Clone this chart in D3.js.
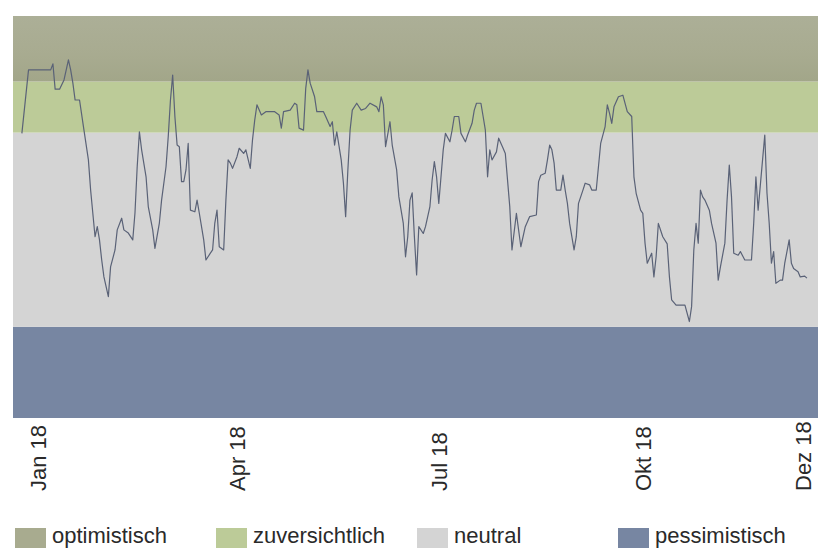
<!DOCTYPE html>
<html>
<head>
<meta charset="utf-8">
<script src="https://cdn.jsdelivr.net/npm/d3@7"></script>
<style>
  body { margin: 0; background: #ffffff; }
  svg { display: block; font-family: "Liberation Sans", Arial, sans-serif; }
</style>
</head>
<body>
<svg id="chart"></svg>
<script>
// Stimmungsindex 2018: Tage seit dem 1. Januar 2018 und Indexwert (0-100)
var dayOffsets = [
    -7, -4, 6, 7, 8, 10, 12, 14, 15, 16, 17, 19, 21, 23, 24, 26, 27, 28, 29, 30,
    32, 33, 35, 36, 38, 39, 41, 43, 44, 45, 46, 47, 49, 50, 52, 53, 55, 56, 58, 59,
    60, 61, 62, 63, 64, 65, 66, 67, 68, 69, 71, 72, 73, 75, 76, 78, 79, 80, 81, 82,
    84, 85, 86, 87, 88, 90, 91, 93, 94, 96, 97, 98, 99, 101, 103, 107, 109, 110, 111, 114,
    116, 117, 118, 120, 121, 122, 123, 125, 126, 129, 130, 132, 133, 134, 135, 137, 138, 139, 140, 141,
    142, 144, 146, 148, 150, 153, 154, 155, 156, 157, 159, 160, 162, 163, 165, 166, 167, 168, 169, 170,
    171, 172, 174, 175, 177, 178, 179, 180, 181, 182, 183, 184, 186, 187, 188, 190, 191, 193, 194, 196,
    197, 198, 200, 201, 202, 203, 204, 205, 207, 208, 210, 211, 213, 214, 216, 218, 220, 222, 225, 226,
    227, 229, 230, 231, 232, 233, 234, 236, 237, 238, 239, 240, 242, 243, 244, 246, 247, 249, 250, 252,
    253, 254, 256, 257, 258, 259, 260, 262, 264, 266, 268, 269, 270, 272, 273, 274, 275, 277, 278, 279,
    280, 282, 284, 285, 286, 288, 292, 294, 295, 296, 297, 298, 299, 300, 301, 303, 304, 306, 307, 308,
    310, 311, 312, 313, 314, 316, 317, 319, 322, 323, 324, 325, 327, 328, 329, 330, 331, 332, 333, 335,
    336, 337, 339, 340, 341, 343, 344, 346, 347
];
var sentiment = [
    70.8, 86.6, 86.6, 88.1, 81.8, 81.8, 84.1, 89.1, 86.6, 83.3, 79.1, 79.1, 71.6, 64.2, 56.7, 45.1, 47.6, 44.3, 39.3, 35.1,
    30.2, 37.6, 41.8, 46.8, 49.7, 46.8, 46.0, 44.3, 51.0, 62.5, 71.2, 66.7, 60.0, 52.6, 46.8, 42.2, 48.5, 54.2, 62.5, 70.0,
    79.1, 85.3, 75.0, 67.9, 67.5, 58.8, 58.8, 61.7, 68.3, 51.7, 51.3, 54.2, 51.0, 44.3, 39.3, 41.0, 41.8, 48.5, 51.7, 42.6,
    41.8, 54.2, 64.2, 63.4, 62.1, 65.0, 67.1, 65.8, 66.7, 62.1, 69.2, 74.1, 77.9, 75.4, 76.2, 76.2, 75.4, 72.1, 76.2, 76.6,
    78.3, 77.9, 72.1, 71.6, 82.0, 86.6, 83.3, 79.9, 76.2, 76.2, 75.0, 72.5, 73.7, 67.9, 71.2, 64.2, 58.4, 50.1, 61.7, 71.6,
    76.6, 78.3, 76.6, 77.0, 78.3, 77.4, 76.2, 79.9, 77.9, 67.5, 73.7, 67.9, 61.7, 55.0, 48.4, 40.1, 45.1, 54.2, 56.0, 45.1,
    35.6, 47.6, 45.9, 47.6, 52.6, 59.2, 63.8, 60.0, 53.4, 60.0, 66.7, 70.8, 68.7, 71.6, 75.0, 75.0, 70.8, 68.7, 70.4, 73.3,
    76.6, 78.3, 78.3, 75.0, 71.6, 60.0, 66.7, 64.2, 66.2, 69.6, 67.1, 65.8, 52.6, 41.8, 50.9, 42.6, 47.6, 50.1, 50.5, 58.8,
    60.4, 60.9, 64.2, 67.9, 66.7, 63.4, 56.7, 56.7, 60.4, 56.7, 53.4, 48.4, 41.8, 45.1, 53.4, 56.7, 58.4, 58.0, 56.7, 56.7,
    62.5, 68.3, 72.5, 77.9, 75.8, 73.3, 77.4, 79.9, 80.3, 76.2, 75.0, 60.0, 55.9, 51.7, 50.9, 43.5, 38.5, 41.0, 35.1, 40.1,
    48.4, 45.1, 43.3, 35.1, 29.4, 28.1, 28.1, 24.0, 27.7, 41.8, 48.4, 43.5, 56.7, 55.0, 54.2, 51.7, 48.4, 43.5, 34.3, 37.6,
    43.5, 54.2, 62.9, 55.0, 41.0, 40.5, 41.4, 39.3, 39.3, 48.4, 60.0, 51.7, 64.2, 70.4, 55.9, 48.4, 38.5, 41.4, 33.5, 34.3,
    34.3, 38.5, 44.3, 38.5, 37.2, 36.4, 35.1, 35.3, 34.8
];

// Stimmungszonen von unten nach oben mit ihren Grenzen auf der Indexskala
var zoneNames = ['pessimistisch', 'neutral', 'zuversichtlich', 'optimistisch'];
var zoneBreaks = [0, 22.7, 71, 83.7, 100];

// Achsenbeschriftung
var tickDates = ['2018-01-01', '2018-04-01', '2018-07-01', '2018-10-01', '2018-12-12'];
var tickLabels = ['Jan 18', 'Apr 18', 'Jul 18', 'Okt 18', 'Dez 18'];

// Legende in der Reihenfolge der Grafik
var legendOrder = ['optimistisch', 'zuversichtlich', 'neutral', 'pessimistisch'];

var svgWidth = 818, svgHeight = 548;
var plot = { left: 13, right: 818, top: 16, bottom: 418 };

var svg = d3.select('#chart')
    .attr('width', svgWidth)
    .attr('height', svgHeight);

var parseDate = d3.timeParse('%Y-%m-%d');
var startDate = new Date(2018, 0, 1);

var data = dayOffsets.map(function(d, i) {
    return { date: d3.timeDay.offset(startDate, d), value: sentiment[i] };
});

var x = d3.scaleTime()
    .domain([new Date(2017, 11, 21), new Date(2018, 11, 19)])
    .range([plot.left, plot.right]);

var y = d3.scaleLinear()
    .domain([0, 100])
    .range([plot.bottom, plot.top]);

var zoneColor = d3.scaleOrdinal()
    .domain(zoneNames)
    .range(['#7786a2', '#d4d4d4', '#bccb98', 'url(#optGrad)']);

var legendColor = d3.scaleOrdinal()
    .domain(zoneNames)
    .range(['#7786a2', '#d4d4d4', '#bccb98', '#a8ab8f']);

// leichter Verlauf im obersten Band
var grad = svg.append('defs').append('linearGradient')
    .attr('id', 'optGrad')
    .attr('x1', 0).attr('y1', 0).attr('x2', 0).attr('y2', 1);
grad.append('stop').attr('offset', '0%').attr('stop-color', '#acaf97');
grad.append('stop').attr('offset', '60%').attr('stop-color', '#a8ab90');
grad.append('stop').attr('offset', '100%').attr('stop-color', '#a2a689');

// Hintergrundbänder
svg.append('g').selectAll('rect')
    .data(zoneNames)
    .enter().append('rect')
    .attr('x', plot.left)
    .attr('width', plot.right - plot.left)
    .attr('y', function(d, i) { return y(zoneBreaks[i + 1]); })
    .attr('height', function(d, i) { return y(zoneBreaks[i]) - y(zoneBreaks[i + 1]); })
    .attr('fill', function(d) { return zoneColor(d); });

// Indexlinie
var line = d3.line()
    .x(function(d) { return x(d.date); })
    .y(function(d) { return y(d.value); });

svg.append('path')
    .datum(data)
    .attr('fill', 'none')
    .attr('stroke', '#5a6277')
    .attr('stroke-width', 1.2)
    .attr('stroke-linejoin', 'round')
    .attr('d', line);

// x-Achse: senkrechte Beschriftung
var xAxis = d3.axisBottom(x)
    .tickValues(tickDates.map(parseDate))
    .tickFormat(function(d, i) { return tickLabels[i]; })
    .tickSize(0);

var axisG = svg.append('g')
    .attr('transform', 'translate(0,' + plot.bottom + ')')
    .call(xAxis);

axisG.select('.domain').remove();
axisG.selectAll('text')
    .attr('fill', '#2a2a2a')
    .style('font-size', '22px')
    .style('font-family', '"Liberation Sans", Arial, sans-serif')
    .attr('text-anchor', 'start')
    .attr('transform', 'translate(0,73) rotate(-90)')
    .attr('x', 0)
    .attr('y', 0)
    .attr('dy', '0.36em');

// Legende
var legend = svg.append('g').selectAll('g')
    .data(legendOrder)
    .enter().append('g')
    .attr('transform', function(d, i) { return 'translate(' + (15 + i * 201) + ',528)'; });

legend.append('rect')
    .attr('width', 31)
    .attr('height', 20)
    .attr('fill', function(d) { return legendColor(d); });

legend.append('text')
    .attr('x', 37)
    .attr('y', 15)
    .attr('fill', '#2a2a2a')
    .style('font-size', '22px')
    .text(function(d) { return d; });
</script>
</body>
</html>
